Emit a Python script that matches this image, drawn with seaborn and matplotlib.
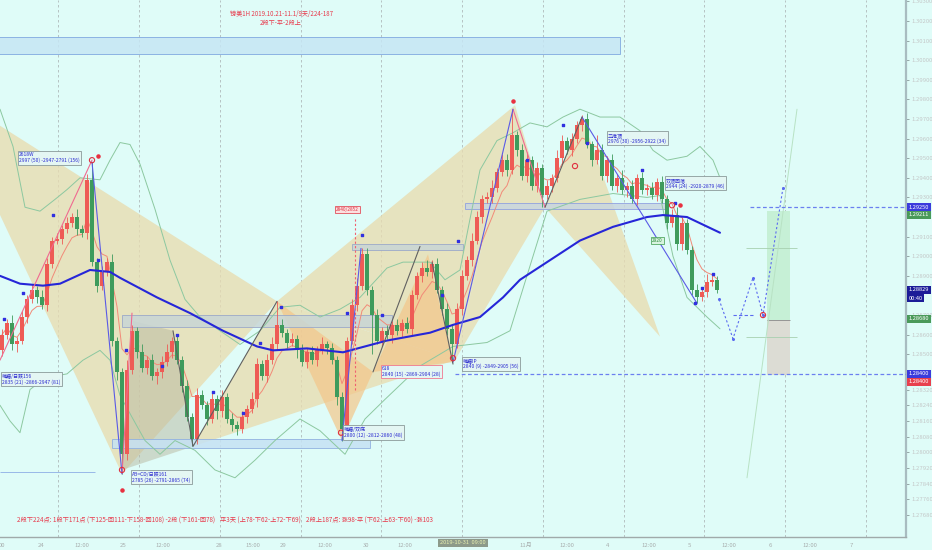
import numpy as np
import pandas as pd
import matplotlib
matplotlib.use('Agg')
import matplotlib.pyplot as plt
import matplotlib.transforms as mtransforms
from matplotlib.patches import Polygon, Rectangle
import seaborn as sns

sns.set_style('white')
plt.rcParams['font.family'] = ['Noto Sans CJK SC', 'DejaVu Sans']
plt.rcParams['axes.unicode_minus'] = False

BG = '#dffcf8'
UP = '#ee5b55'
DN = '#3e9b5c'

# 1H 收盘价 (镑美)
first_open = 1.2852
closes = [1.2860, 1.2866, 1.2855, 1.2857, 1.2869, 1.2878, 1.2883, 1.2879, 1.2875, 1.2896, 1.2908, 1.2909,
          1.2914, 1.2917, 1.2920, 1.2914, 1.2912, 1.2939, 1.2897, 1.2885, 1.2892, 1.2897, 1.2857, 1.2841,
          1.2799, 1.2842, 1.2862, 1.2851, 1.2843, 1.2847, 1.2839, 1.2841, 1.2846, 1.2851, 1.2857, 1.2847,
          1.2834, 1.2818, 1.2807, 1.2829, 1.2824, 1.2817, 1.2827, 1.2821, 1.2828, 1.2817, 1.2814, 1.2812,
          1.2818, 1.2822, 1.2827, 1.2845, 1.2839, 1.2847, 1.2855, 1.2865, 1.2861, 1.2856, 1.2858, 1.2852,
          1.2846, 1.2851, 1.2847, 1.2852, 1.2855, 1.2853, 1.2847, 1.2828, 1.2812, 1.2857, 1.2875, 1.2885,
          1.2901, 1.2883, 1.2870, 1.2857, 1.2862, 1.2860, 1.2865, 1.2862, 1.2866, 1.2863, 1.2880, 1.2890,
          1.2894, 1.2892, 1.2896, 1.2883, 1.2873, 1.2863, 1.2855, 1.2873, 1.2890, 1.2898, 1.2908, 1.2920,
          1.2929, 1.2930, 1.2935, 1.2943, 1.2949, 1.2944, 1.2962, 1.2954, 1.2941, 1.2949, 1.2936, 1.2945,
          1.2931, 1.2936, 1.2940, 1.2950, 1.2959, 1.2954, 1.2960, 1.2967, 1.2970, 1.2957, 1.2949, 1.2954,
          1.2941, 1.2949, 1.2936, 1.2940, 1.2934, 1.2936, 1.2929, 1.2940, 1.2934, 1.2935, 1.2931, 1.2938,
          1.2929, 1.2917, 1.2921, 1.2906, 1.2917, 1.2903, 1.2883, 1.2879, 1.2882, 1.2887, 1.2888, 1.2883]
# 影线长度 (点)
up_wick = [3, 2, 4, 2, 3, 2, 3, 2, 4, 3, 2, 3,
           2, 3, 2, 4, 2, 3, 9, 2, 3, 2, 4, 2,
           2, 5, 3, 2, 4, 2, 3, 2, 3, 4, 2, 3,
           2, 3, 2, 4, 3, 2, 3, 2, 4, 2, 3, 2,
           3, 2, 4, 3, 2, 3, 4, 12, 3, 2, 3, 2,
           3, 2, 3, 2, 4, 2, 3, 2, 3, 2, 3, 4,
           3, 3, 2, 3, 2, 3, 2, 3, 2, 3, 3, 2,
           3, 4, 2, 3, 2, 3, 2, 3, 3, 2, 4, 3,
           2, 3, 4, 2, 3, 3, 13, 2, 3, 4, 2, 3,
           2, 3, 2, 4, 3, 2, 3, 2, 2, 3, 2, 8,
           3, 2, 3, 2, 4, 2, 3, 2, 3, 2, 3, 2,
           3, 2, 3, 4, 3, 2, 2, 3, 2, 4, 3, 2]
dn_wick = [3, 2, 3, 4, 2, 3, 2, 3, 2, 3, 2, 2,
           3, 2, 2, 3, 2, 3, 2, 3, 2, 2, 3, 4,
           10, 3, 2, 3, 2, 3, 2, 4, 3, 2, 3, 2,
           3, 2, 4, 3, 2, 3, 2, 4, 3, 2, 3, 3,
           2, 3, 2, 4, 2, 3, 2, 3, 2, 3, 2, 4,
           2, 3, 2, 3, 2, 3, 2, 4, 6, 3, 2, 3,
           2, 3, 20, 2, 3, 2, 4, 2, 3, 2, 3, 2,
           3, 2, 3, 2, 3, 3, 9, 2, 3, 2, 3, 2,
           3, 2, 3, 2, 2, 3, 2, 3, 2, 3, 2, 3,
           6, 2, 3, 2, 3, 2, 3, 2, 3, 2, 3, 2,
           2, 3, 2, 3, 2, 4, 2, 3, 2, 3, 2, 3,
           2, 3, 2, 3, 3, 2, 3, 3, 2, 3, 2, 2]

# 长均线
ma_t = [-0.4, 3.6, 8.2, 11.6, 17.6, 21.6, 23.6, 31, 37.6, 44.2, 51, 54.2, 61, 68.2, 77, 85.6,
        90.2, 95.6, 100.2, 103.6, 109, 115.6, 122.2, 129, 132.2, 137, 143.6]
ma_p = [1.2890, 1.2886, 1.2885, 1.2886, 1.2893, 1.2892, 1.2889, 1.2879, 1.2871, 1.2862, 1.2854, 1.2852,
        1.2853, 1.2851, 1.2857, 1.2861, 1.2865, 1.2869, 1.2879, 1.2888, 1.2897, 1.2908, 1.2915, 1.2920,
        1.2921, 1.2920, 1.2912]
# 布林带
bb_up_t = [-0.4, 2.2, 4.6, 7.6, 10.6, 13, 15.6, 19.6, 21.6, 23.6, 25.6, 27.6, 30.6, 33.6, 36.6, 39.6,
           43.6, 47.6, 51.6, 55.6, 59.6, 63.6, 67.6, 71.6, 77, 80.2, 85.6, 88.6, 91.6, 93.6, 95.6, 99,
           102.2, 105.6, 109, 112.2, 115.6, 119.6, 123.6, 127.6, 130.2, 133, 137, 139.6, 142.2, 143.6]
bb_up_p = [1.2975, 1.2956, 1.2925, 1.2923, 1.2929, 1.2934, 1.2940, 1.2939, 1.2949, 1.2958, 1.2957, 1.2947,
           1.2924, 1.2898, 1.2878, 1.2869, 1.2862, 1.2855, 1.2862, 1.2874, 1.2875, 1.2869, 1.2873, 1.2879,
           1.2894, 1.2897, 1.2897, 1.2888, 1.2893, 1.2919, 1.2944, 1.2959, 1.2963, 1.2968, 1.2966, 1.2971,
           1.2975, 1.2971, 1.2971, 1.2964, 1.2954, 1.2949, 1.2951, 1.2956, 1.2949, 1.2940]
bb_lo_t = [-0.4, 1.6, 3.6, 5.6, 8.6, 13, 16.2, 19.6, 21.6, 23.6, 26.2, 28.6, 31.6, 34.6, 38.6, 42.6,
           46.6, 50.6, 54.6, 59.6, 63.6, 68.6, 72.6, 76.6, 83.6, 90.2, 97, 101.6, 106.2, 109, 115.6,
           122.2, 129, 131.6, 134.2, 137, 141, 143.6]
bb_lo_p = [1.2824, 1.2816, 1.2810, 1.2832, 1.2838, 1.2840, 1.2847, 1.2852, 1.2847, 1.2829, 1.2817, 1.2806,
           1.2799, 1.2806, 1.2801, 1.2791, 1.2787, 1.2796, 1.2806, 1.2817, 1.2811, 1.2799, 1.2817, 1.2827,
           1.2844, 1.2854, 1.2856, 1.2862, 1.2900, 1.2923, 1.2929, 1.2932, 1.2930, 1.2931, 1.2900, 1.2879,
           1.2869, 1.2863]

# 形态三角 (时间, 价格)
tri_tan = [([-12.4, 55, 24], [1.2986, 1.2877, 1.2789]),
           ([38.2, 55, 90.6], [1.2803, 1.2877, 1.2847]),
           ([55, 102.6, 90.6], [1.2877, 1.2977, 1.2847]),
           ([90.6, 102.6, 108.6], [1.2847, 1.2977, 1.2925]),
           ([108.6, 116, 131.6], [1.2925, 1.2971, 1.2859])]
tri_gray_t = [24, 26.2, 34.2, 38.2]
tri_gray_p = [1.2791, 1.2867, 1.2862, 1.2803]
tri_orange = [([55, 68, 74.2], [1.2877, 1.2806, 1.2841]),
              ([74.2, 85.2, 90.2], [1.2841, 1.2901, 1.2846])]

# 波段连线
pink_legs = [([-0.4, 18], [1.2847, 1.2949]), ([24, 26], [1.2789, 1.2871]),
             ([102.2, 108.6], [1.2975, 1.2925])]
blue_legs = [([18, 24], [1.2948, 1.2789]), ([68, 71.8], [1.2806, 1.2904]),
             ([90.2, 102.2], [1.2846, 1.2975]), ([116, 139], [1.2971, 1.2876])]
dark_legs = [([34.2, 38.2, 55], [1.2862, 1.2803, 1.2877]), ([74.2, 83.6], [1.2841, 1.2905]),
             ([86, 90.2], [1.2897, 1.2845]), ([108.6, 116], [1.2925, 1.2971])]

# 区域框 (t0, t1, p0, p1)
zones = [(-1, 123.6, 1.3003, 1.3012, '#c6e6f4', '#7fa8e0'),
         (24, 78, 1.2864, 1.2870, '#c8d6d6', '#9aa8c8'),
         (70, 92.2, 1.2903, 1.2906, '#c8d6d6', '#9aa8c8'),
         (22, 73.6, 1.2802, 1.2807, '#c6e2f4', '#8fb0e0'),
         (92.6, 132.6, 1.2924, 1.2927, '#c8d6e0', '#8fa0e0')]

# 标注框
box_t = [3.4, 0, 26, 76, 68.4, 92.2, 121.2, 132.8]
box_p = [1.2953, 1.2840, 1.2790, 1.2844, 1.2813, 1.2848, 1.2963, 1.2940]
box_txt = ['2618W\n2997 (50) -2947-2791 (156)',
           '蝙蝠/日跌156\n2835 (21) -2866-2947 (81)',
           'AB=CD/日跌161\n2785 (26) -2791-2865 (74)',
           '618\n2840 (15) -2869-2904 (28)',
           '蝙蝠/双底\n2800 (12) -2812-2860 (48)',
           '蝙蝠IP\n2840 (9) -2849-2905 (56)',
           '三推顶\n2976 (30) -2956-2922 (34)',
           '双顶回落\n2944 (24) -2920-2879 (46)']
box_edge = ['#8a9a9a', '#8a9a9a', '#8a9a9a', '#f07890', '#8a9a9a', '#8a9a9a', '#8a9a9a', '#8a9a9a']

# 标记
mk_t = [0.4, 4.2, 10.2, 19.2, 24.8, 32, 35, 42.2, 48.2, 51.6, 55.8, 69, 72, 76, 88, 91.2,
        105, 112.2, 117, 128, 134.6, 140, 142.2, 138.6]
mk_p = [1.2868, 1.2881, 1.2921, 1.2898, 1.2852, 1.2844, 1.2860, 1.2831, 1.2820, 1.2856, 1.2874, 1.2871,
        1.2911, 1.2870, 1.2880, 1.2908, 1.2949, 1.2967, 1.2958, 1.2944, 1.2927, 1.2884, 1.2891, 1.2876]
ring_t = [18, 24, 67.8, 90.2, 114.6, 134, 152.2]
ring_p = [1.2949, 1.2791, 1.2810, 1.2848, 1.2946, 1.2926, 1.2870]
dot_t = [19.2, 24, 102.2, 135.6, 69]
dot_p = [1.2951, 1.2781, 1.2979, 1.2926, 1.2812]

# 预期走势
proj_t = [143.4, 146.2, 150.2, 152.2, 156.2]
proj_p = [1.2878, 1.2858, 1.2889, 1.2870, 1.2935]

# 坐标轴
grid_t = [11.2, 27.4, 43.5, 59.7, 75.8, 91.9, 108.1, 124.3, 140.4, 156.6, 172.7]
time_t = [0, 7.8, 16, 24.2, 32.2, 43.4, 50.2, 56.2, 64.6, 72.8, 80.6, 104.8, 113, 121.2,
          129.4, 137.4, 145.4, 153.6, 161.6, 169.8]
time_lbl = ['00', '24', '12:00', '25', '12:00', '28', '15:00', '29', '12:00', '30', '12:00',
            '11月', '12:00', '4', '12:00', '5', '12:00', '6', '12:00', '7']
price_ticks = [1.303, 1.302, 1.301, 1.300, 1.299, 1.298, 1.297, 1.296, 1.295, 1.294, 1.293,
               1.291, 1.290, 1.289, 1.287, 1.286, 1.285,
               1.2832, 1.2824, 1.2816, 1.2808, 1.2800, 1.2792, 1.2784, 1.2776, 1.2768]
tag_p = [1.2925, 1.29211, 1.28829, 1.28787, 1.2868, 1.2840, 1.28359]
tag_txt = ['1.29250', '1.29211', '1.28829', '00:40', '1.28680', '1.28400', '1.28400']
tag_col = ['#3b3bdc', '#4a9a5a', '#1c1c98', '#1c1c98', '#4a9a5a', '#3b3bdc', '#e8404e']

# ------------------------------------------------------------------
idx = np.arange(len(closes))
opens = [first_open] + closes[:-1]
df = pd.DataFrame({'t': idx, 'open': opens, 'close': closes})
df['high'] = df[['open', 'close']].max(axis=1) + np.array(up_wick) * 1e-4
df['low'] = df[['open', 'close']].min(axis=1) - np.array(dn_wick) * 1e-4
df['ema'] = df['close'].ewm(span=6).mean()

fig = plt.figure(figsize=(9.32, 5.5), dpi=100, facecolor=BG)
ax = fig.add_axes([0, 13 / 550, 906 / 932, 537 / 550])
ax.set_facecolor(BG)
ax.set_xlim(-0.4, 180.8)
ax.set_ylim(1.27568, 1.30307)

for g in grid_t:
    ax.axvline(g, color='#b0baba', lw=0.6, ls=(0, (3, 3)), zorder=0)

for tt, pp in tri_tan:
    ax.add_patch(Polygon(list(zip(tt, pp)), closed=True, fc='#e8dcb0', ec='none', alpha=0.78, zorder=1))
ax.add_patch(Polygon(list(zip(tri_gray_t, tri_gray_p)), closed=True, fc='#b8b8a0', ec='none',
                     alpha=0.5, zorder=1))
for tt, pp in tri_orange:
    ax.add_patch(Polygon(list(zip(tt, pp)), closed=True, fc='#f3c68a', ec='none', alpha=0.7, zorder=1))

for t0, t1, p0, p1, fc, ec in zones:
    ax.add_patch(Rectangle((t0, p0), t1 - t0, p1 - p0, fc=fc, ec=ec, lw=0.7, alpha=0.85, zorder=2))

# 布林带与均线
sns.lineplot(x=bb_up_t, y=bb_up_p, ax=ax, color='#8cc8a0', lw=0.7, zorder=3, sort=False)
sns.lineplot(x=bb_lo_t, y=bb_lo_p, ax=ax, color='#8cc8a0', lw=0.7, zorder=3, sort=False)
sns.lineplot(data=df, x='t', y='ema', ax=ax, color='#f28a78', lw=0.7, zorder=4)

# K线
cols = np.where(df['close'] >= df['open'], UP, DN)
ax.vlines(df['t'], df['low'], df['high'], colors=cols, lw=0.6, zorder=4)
body = (df['close'] - df['open']).abs().clip(lower=0.00004)
ax.bar(df['t'], body, bottom=df[['open', 'close']].min(axis=1), width=0.62, color=cols, lw=0, zorder=5)

sns.lineplot(x=ma_t, y=ma_p, ax=ax, color='#2626d8', lw=1.5, zorder=6, sort=False)

for tt, pp in pink_legs:
    ax.plot(tt, pp, color='#f06a90', lw=0.8, zorder=6)
for tt, pp in blue_legs:
    ax.plot(tt, pp, color='#5a5ae6', lw=0.8, zorder=6)
for tt, pp in dark_legs:
    ax.plot(tt, pp, color='#606060', lw=0.8, zorder=6)

ax.scatter(mk_t, mk_p, marker='s', s=3, color='#3030e0', zorder=7)
ax.scatter(ring_t, ring_p, s=14, facecolors='none', edgecolors='#e03040', lw=0.8, zorder=7)
ax.scatter(dot_t, dot_p, s=5, color='#e83040', zorder=7)

# 水平线
ax.hlines(1.2790, -0.4, 18.6, colors='#98b8e8', lw=0.7, zorder=2)
ax.hlines(1.2925, 149.6, 180.8, colors='#6b7ff0', lw=0.9, linestyles=(0, (3, 2)), zorder=6)
ax.hlines(1.2840, 90.6, 180.8, colors='#6b7ff0', lw=0.9, linestyles=(0, (3, 2)), zorder=6)
ax.vlines(70.6, 1.2832, 1.2920, colors='#f06070', lw=0.8, linestyles=(0, (2, 2)), zorder=6)

# 仓位框
ax.add_patch(Rectangle((153, 1.28675), 4.6, 1.29231 - 1.28675, fc='#c6f0d6', ec='none', zorder=2))
ax.add_patch(Rectangle((153, 1.28395), 4.6, 1.28675 - 1.28395, fc='#dcdcd4', ec='none', zorder=2))
ax.hlines([1.29042, 1.28588], 148.8, 159, colors='#a8d0b0', lw=0.6, zorder=3)
ax.hlines(1.28675, 153, 157.6, colors='#8a8a8a', lw=0.6, zorder=3)
ax.plot([149, 159], [1.2787, 1.2975], color='#b8e2c4', lw=0.7, zorder=3)
ax.plot(proj_t, proj_p, color='#5a6af0', lw=0.8, ls=(0, (2, 2)), marker='o', ms=1.2, zorder=6)
ax.hlines(1.2870, 146.2, 150.2, colors='#5a6af0', lw=0.8, linestyles=(0, (3, 2)), zorder=6)

# 标注
for t, p, s, ec in zip(box_t, box_p, box_txt, box_edge):
    ax.text(t, p, s, fontsize=3.6, color='#2a2ad0', va='top', ha='left', linespacing=1.1, zorder=8,
            bbox=dict(boxstyle='square,pad=0.3', fc='#e4f6f3', ec=ec, lw=0.6))
ax.text(66.8, 1.2924, '2840/2852', fontsize=3.4, color='#e03040', va='center', ha='left', zorder=8,
        bbox=dict(boxstyle='square,pad=0.2', fc='#fbe0e0', ec='#e03040', lw=0.5))
ax.text(130, 1.2908, '2920', fontsize=3.4, color='#2a8a3a', va='center', ha='left', zorder=8,
        bbox=dict(boxstyle='square,pad=0.2', fc='#d8f4e0', ec='#3a9a4a', lw=0.5))

ax.text(281 / 906, 1 - 18 / 537, '镑美1H 2019.10.21-11.1/9天/224-187\n2段下-平-2段上',
        transform=ax.transAxes, fontsize=4.4, color='#e8384a', ha='center', va='center', linespacing=1.15)
ax.text(17 / 906, 16 / 537, '2段下224点: 1段下171点 (下125-回111-下158-回108) -2段 (下161-回78)',
        transform=ax.transAxes, fontsize=4.5, color='#e8384a', ha='left', va='center')
ax.text(220 / 906, 16 / 537, '平3天 (上78-下62-上72-下69)',
        transform=ax.transAxes, fontsize=4.5, color='#e8384a', ha='left', va='center')
ax.text(306 / 906, 16 / 537, '2段上187点: 涨98-平 (下62-上63-下60) -涨103',
        transform=ax.transAxes, fontsize=4.5, color='#e8384a', ha='left', va='center')

# 轴
for s in ['top', 'left']:
    ax.spines[s].set_visible(False)
ax.spines['right'].set_color('#a8bcc0')
ax.spines['right'].set_linewidth(1.6)
ax.spines['bottom'].set_color('#a0aaaa')
ax.spines['bottom'].set_linewidth(1.0)
ax.yaxis.tick_right()
ax.set_yticks(price_ticks)
ax.set_yticklabels([f'{v:.5f}' for v in price_ticks])
ax.tick_params(axis='y', labelsize=4.3, labelcolor='#c4c8c8', color='#8a9a9a', length=2, width=0.6, pad=2)
ax.set_xticks(time_t)
ax.set_xticklabels(time_lbl)
ax.tick_params(axis='x', labelsize=4.3, labelcolor='#a8aeae', color='#8a9a9a', length=2, width=0.6, pad=2)
ax.set_xlabel('')
ax.set_ylabel('')

trans = mtransforms.blended_transform_factory(ax.transAxes, ax.transData)
for p, s, c in zip(tag_p, tag_txt, tag_col):
    ax.text(1.003, p, s, transform=trans, fontsize=4.1, color='white', va='center', ha='left',
            clip_on=False, zorder=9, bbox=dict(boxstyle='square,pad=0.25', fc=c, ec='none'))
xtrans = mtransforms.blended_transform_factory(ax.transData, ax.transAxes)
ax.text(92.2, -0.006, '2019-10-31  09:00', transform=xtrans, fontsize=4.1, color='#e8f0b0',
        va='top', ha='center', clip_on=False, zorder=9,
        bbox=dict(boxstyle='square,pad=0.3', fc='#8d9a8a', ec='none'))

fig.savefig('out.png', dpi=100, facecolor=BG)
